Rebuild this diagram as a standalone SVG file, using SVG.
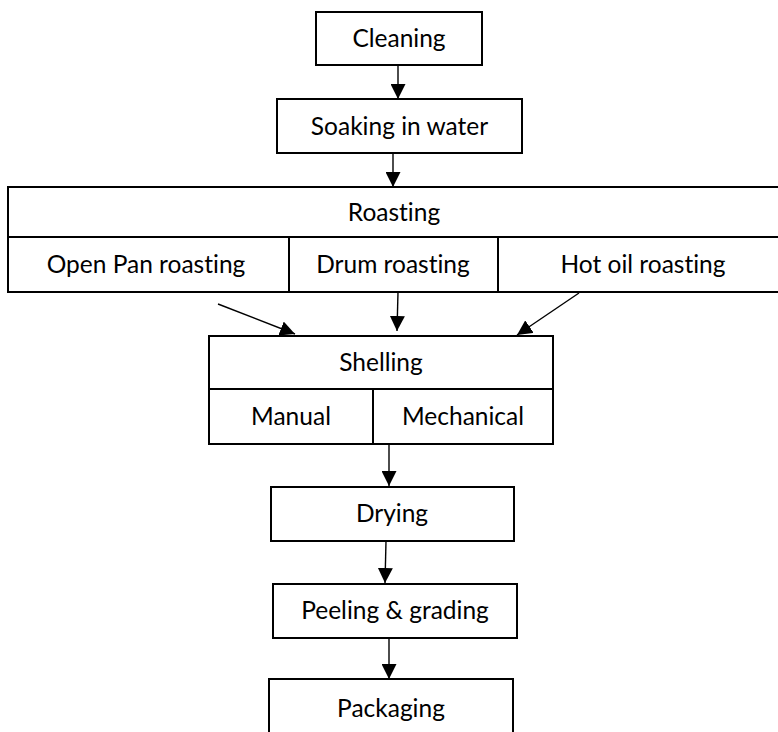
<svg xmlns="http://www.w3.org/2000/svg" width="778" height="732" viewBox="0 0 778 732">
<style>
.box{fill:#fff;stroke:#000;stroke-width:2}
.div{stroke:#000;stroke-width:2;fill:none}
.t{font-family:Lato,"Open Sans","Liberation Sans",sans-serif;font-size:24.5px;fill:#000;text-anchor:middle;font-variant-ligatures:none;font-feature-settings:"liga" 0,"clig" 0,"dlig" 0}
.c{stroke:#000;stroke-width:1.4;fill:none;marker-end:url(#ah)}
</style>
<defs>
<marker id="ah" markerUnits="userSpaceOnUse" markerWidth="15" markerHeight="15" refX="15" refY="7.5" orient="auto" viewBox="0 0 15 15">
<path d="M0,0 L15,7.5 L0,15 z" fill="#000"/>
</marker>
</defs>
<rect width="778" height="732" fill="#fff"/>
<g id="cleaning">
<rect class="box" x="316" y="12" width="166" height="53"/>
<text class="t" x="399" y="47">Cleaning</text>
</g>
<g id="soaking">
<rect class="box" x="277" y="99" width="245" height="54"/>
<text class="t" x="399.5" y="135">Soaking in water</text>
</g>
<g id="roasting">
<rect class="box" x="8" y="187" width="790" height="105"/>
<line class="div" x1="8" y1="237" x2="798" y2="237"/>
<line class="div" x1="289" y1="237" x2="289" y2="292"/>
<line class="div" x1="498" y1="237" x2="498" y2="292"/>
<text class="t" x="394" y="221">Roasting</text>
<g id="open-pan"><text class="t" x="146" y="273">Open Pan roasting</text></g>
<g id="drum"><text class="t" x="393" y="273">Drum roasting</text></g>
<g id="hot-oil"><text class="t" x="643" y="273">Hot oil roasting</text></g>
</g>
<g id="shelling">
<rect class="box" x="209" y="336" width="344" height="108"/>
<line class="div" x1="209" y1="389" x2="553" y2="389"/>
<line class="div" x1="373" y1="389" x2="373" y2="444"/>
<text class="t" x="381" y="371">Shelling</text>
<g id="manual"><text class="t" x="291" y="425">Manual</text></g>
<g id="mechanical"><text class="t" x="463" y="425">Mechanical</text></g>
</g>
<g id="drying">
<rect class="box" x="271" y="487" width="243" height="54"/>
<text class="t" x="392" y="522">Drying</text>
</g>
<g id="peeling">
<rect class="box" x="273" y="584" width="244" height="54"/>
<text class="t" x="395" y="619">Peeling &amp; grading</text>
</g>
<g id="packaging">
<rect class="box" x="269" y="679" width="244" height="70"/>
<text class="t" x="391" y="717">Packaging</text>
</g>
<g id="connectors">
<line class="c" x1="398" y1="65" x2="398" y2="99"/>
<line class="c" x1="393" y1="153" x2="393" y2="187"/>
<line class="c" x1="218" y1="304" x2="295" y2="334"/>
<line class="c" x1="398" y1="292" x2="397" y2="331"/>
<line class="c" x1="579" y1="293" x2="517" y2="335"/>
<line class="c" x1="389" y1="444" x2="389" y2="486"/>
<line class="c" x1="386" y1="541" x2="385" y2="583"/>
<line class="c" x1="389" y1="638" x2="389" y2="679"/>
</g>
</svg>
